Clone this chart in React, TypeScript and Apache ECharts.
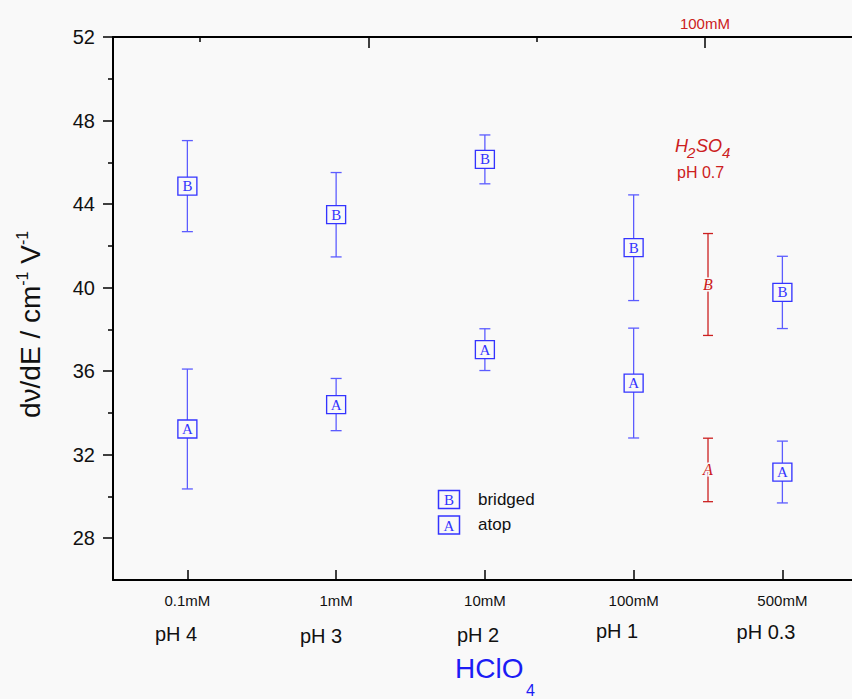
import React, { useEffect, useRef } from 'react';
import * as echarts from 'echarts';

// ---- data ----
const positions = [1, 2, 3, 4, 5];
const concentrationLabels = ['0.1mM', '1mM', '10mM', '100mM', '500mM'];
const phLabels = ['pH 4', 'pH 3', 'pH 2', 'pH 1', 'pH 0.3'];
const bridgedValues = [44.86, 43.49, 46.14, 41.91, 39.77];
const bridgedErrors = [2.18, 2.02, 1.17, 2.53, 1.73];
const atopValues = [33.23, 34.4, 37.03, 35.43, 31.17];
const atopErrors = [2.87, 1.25, 1.0, 2.63, 1.48];
const h2so4Positions = [4.5];
const h2so4Bridged = [40.15];
const h2so4BridgedErrors = [2.44];
const h2so4Atop = [31.27];
const h2so4AtopErrors = [1.52];
const yMajorTicks = [28, 32, 36, 40, 44, 48, 52];
const yMinorTicks = [30, 34, 38, 42, 46, 50];
const topMajorTicks = [1, 3];
const topMinorTicks = [0, 2];
const topLabelValues = [3];
const topLabelTexts = ['100mM'];

// ---- style ----
const BG = '#f9f9f9';
const BLUE = '#3434ff';
const BLUE_LINE = '#5c5cff';
const RED = '#cc2020';
const SANS = '"Liberation Sans", Arial, sans-serif';
const SERIF = '"Liberation Serif", "Times New Roman", serif';

function errorRows(xs: number[], ys: number[], es: number[]) {
  return xs.map((x, i) => [x, ys[i] - es[i], ys[i] + es[i], ys[i]]);
}

function makeErrorRender(color: string, capWidth: number, letter?: string) {
  return (_params: any, api: any) => {
    const x = api.value(0);
    const lo = api.value(1);
    const hi = api.value(2);
    const mid = api.value(3);
    const pHi = api.coord([x, hi]);
    const pLo = api.coord([x, lo]);
    const pMid = api.coord([x, mid]);
    const h = capWidth / 2;
    const style = { stroke: color, lineWidth: 1.3 };
    const children: any[] = [
      { type: 'line', shape: { x1: pHi[0], y1: pHi[1], x2: pLo[0], y2: pLo[1] }, style },
      { type: 'line', shape: { x1: pHi[0] - h, y1: pHi[1], x2: pHi[0] + h, y2: pHi[1] }, style },
      { type: 'line', shape: { x1: pLo[0] - h, y1: pLo[1], x2: pLo[0] + h, y2: pLo[1] }, style },
    ];
    if (letter) {
      children.push({
        type: 'text',
        x: pMid[0],
        y: pMid[1],
        style: {
          text: letter,
          fill: color,
          font: `italic 16px ${SERIF}`,
          align: 'center',
          verticalAlign: 'middle',
          stroke: BG,
          lineWidth: 3,
        },
      });
    }
    return { type: 'group', children };
  };
}

function markerSeries(name: string, letter: string, xs: number[], ys: number[]) {
  return {
    name,
    type: 'scatter',
    xAxisIndex: 0,
    yAxisIndex: 0,
    symbol: 'rect',
    symbolSize: [19, 18],
    z: 5,
    itemStyle: { color: BG, borderColor: BLUE, borderWidth: 1.3, opacity: 1 },
    label: {
      show: true,
      position: 'inside',
      formatter: letter,
      color: BLUE,
      fontFamily: SERIF,
      fontSize: 15,
    },
    data: xs.map((x, i) => [x, ys[i]]),
  };
}

const phTextX = [176, 321, 478, 617, 766];
const phTextY = [634, 636, 635, 631, 632];

export default function App() {
  const ref = useRef<HTMLDivElement>(null);
  useEffect(() => {
    if (!ref.current) return;
    const chart = echarts.init(ref.current, undefined, { renderer: 'svg' });
    const yAxisCommon = {
      type: 'value',
      min: 26,
      max: 52,
      position: 'left',
      splitLine: { show: false },
    };
    const option: any = {
      animation: false,
      backgroundColor: BG,
      grid: { left: 113, top: 37, right: 0, bottom: 119, containLabel: false },
      xAxis: [
        {
          type: 'value',
          position: 'bottom',
          min: 0.5,
          max: 5.468,
          splitLine: { show: false },
          axisLine: { show: true, onZero: false, lineStyle: { color: '#000', width: 2 } },
          axisTick: { show: true, inside: true, length: 10, customValues: positions, lineStyle: { color: '#000', width: 1.5 } },
          axisLabel: {
            show: true,
            customValues: positions,
            formatter: (v: number) => concentrationLabels[positions.indexOf(Math.round(v))] || '',
            color: '#111',
            fontFamily: SANS,
            fontSize: 15,
            margin: 13,
          },
        },
        {
          type: 'value',
          position: 'top',
          min: -0.517,
          max: 3.874,
          splitLine: { show: false },
          axisLine: { show: true, onZero: false, lineStyle: { color: '#000', width: 2 } },
          axisTick: { show: true, inside: true, length: 11, customValues: topMajorTicks, lineStyle: { color: '#000', width: 1.5 } },
          axisLabel: {
            show: true,
            customValues: topLabelValues,
            formatter: (v: number) => topLabelTexts[topLabelValues.indexOf(Math.round(v))] || '',
            color: RED,
            fontFamily: SANS,
            fontSize: 15,
            margin: 6,
          },
        },
        {
          type: 'value',
          position: 'top',
          min: -0.517,
          max: 3.874,
          splitLine: { show: false },
          axisLine: { show: false, onZero: false },
          axisTick: { show: true, inside: true, length: 5, customValues: topMinorTicks, lineStyle: { color: '#000', width: 1.5 } },
          axisLabel: { show: false },
        },
      ],
      yAxis: [
        {
          ...yAxisCommon,
          axisLine: { show: true, onZero: false, lineStyle: { color: '#000', width: 2 } },
          axisTick: { show: true, inside: false, length: 10, customValues: yMajorTicks, lineStyle: { color: '#000', width: 1.5 } },
          axisLabel: {
            show: true,
            customValues: yMajorTicks,
            color: '#111',
            fontFamily: SANS,
            fontSize: 20,
            margin: 18,
          },
        },
        {
          ...yAxisCommon,
          offset: 0,
          axisLine: { show: false, onZero: false },
          axisTick: { show: true, inside: false, length: 5, customValues: yMinorTicks, lineStyle: { color: '#000', width: 1.5 } },
          axisLabel: { show: false },
        },
      ],
      series: [
        {
          name: 'bridged err',
          type: 'custom',
          xAxisIndex: 0,
          yAxisIndex: 0,
          renderItem: makeErrorRender(BLUE_LINE, 11),
          encode: { x: 0, y: [1, 2] },
          data: errorRows(positions, bridgedValues, bridgedErrors),
          z: 2,
        },
        {
          name: 'atop err',
          type: 'custom',
          xAxisIndex: 0,
          yAxisIndex: 0,
          renderItem: makeErrorRender(BLUE_LINE, 11),
          encode: { x: 0, y: [1, 2] },
          data: errorRows(positions, atopValues, atopErrors),
          z: 2,
        },
        markerSeries('bridged', 'B', positions, bridgedValues),
        markerSeries('atop', 'A', positions, atopValues),
        {
          name: 'H2SO4 bridged',
          type: 'custom',
          xAxisIndex: 0,
          yAxisIndex: 0,
          renderItem: makeErrorRender(RED, 10, 'B'),
          encode: { x: 0, y: [1, 2] },
          data: errorRows(h2so4Positions, h2so4Bridged, h2so4BridgedErrors),
          z: 3,
        },
        {
          name: 'H2SO4 atop',
          type: 'custom',
          xAxisIndex: 0,
          yAxisIndex: 0,
          renderItem: makeErrorRender(RED, 10, 'A'),
          encode: { x: 0, y: [1, 2] },
          data: errorRows(h2so4Positions, h2so4Atop, h2so4AtopErrors),
          z: 3,
        },
      ],
      graphic: [
        // y axis title
        {
          type: 'text',
          x: 30,
          y: 418,
          rotation: Math.PI / 2,
          style: {
            text: '{a|dν/dE / cm}{b|-1}{a| V}{b|-1}',
            align: 'left',
            verticalAlign: 'middle',
            fill: '#111',
            rich: {
              a: { fontFamily: SANS, fontSize: 28, lineHeight: 32, fill: '#111', verticalAlign: 'middle' },
              b: { fontFamily: SANS, fontSize: 16, lineHeight: 16, fill: '#111', verticalAlign: 'top' },
            },
          },
        },
        // pH labels
        ...phLabels.map((t, i) => ({
          type: 'text',
          x: phTextX[i],
          y: phTextY[i],
          style: { text: t, fill: '#111', font: `20px ${SANS}`, align: 'center', verticalAlign: 'middle' },
        })),
        // HClO4
        { type: 'text', x: 455, y: 668.5, style: { text: 'HClO', fill: '#1c1cf5', font: `28px ${SANS}`, align: 'left', verticalAlign: 'middle' } },
        { type: 'text', x: 526, y: 690.5, style: { text: '4', fill: '#1c1cf5', font: `16px ${SANS}`, align: 'left', verticalAlign: 'middle' } },
        // H2SO4 label
        { type: 'text', x: 675, y: 146.3, style: { text: 'H', fill: RED, font: `italic 18px ${SANS}`, align: 'left', verticalAlign: 'middle' } },
        { type: 'text', x: 687, y: 152.5, style: { text: '2', fill: RED, font: `italic 15px ${SANS}`, align: 'left', verticalAlign: 'middle' } },
        { type: 'text', x: 696, y: 146.3, style: { text: 'SO', fill: RED, font: `italic 18px ${SANS}`, align: 'left', verticalAlign: 'middle' } },
        { type: 'text', x: 722, y: 152.5, style: { text: '4', fill: RED, font: `italic 15px ${SANS}`, align: 'left', verticalAlign: 'middle' } },
        { type: 'text', x: 677, y: 172, style: { text: 'pH 0.7', fill: RED, font: `16px ${SANS}`, align: 'left', verticalAlign: 'middle' } },
        // legend
        { type: 'rect', shape: { x: 438.5, y: 490.5, width: 21, height: 18 }, style: { fill: BG, stroke: BLUE, lineWidth: 1.5 } },
        { type: 'text', x: 449, y: 500, style: { text: 'B', fill: BLUE, font: `15px ${SERIF}`, align: 'center', verticalAlign: 'middle' } },
        { type: 'text', x: 478, y: 499.5, style: { text: 'bridged', fill: '#111', font: `17px ${SANS}`, align: 'left', verticalAlign: 'middle' } },
        { type: 'rect', shape: { x: 438.5, y: 516, width: 21, height: 18 }, style: { fill: BG, stroke: BLUE, lineWidth: 1.5 } },
        { type: 'text', x: 449, y: 525.5, style: { text: 'A', fill: BLUE, font: `15px ${SERIF}`, align: 'center', verticalAlign: 'middle' } },
        { type: 'text', x: 478, y: 524.6, style: { text: 'atop', fill: '#111', font: `17px ${SANS}`, align: 'left', verticalAlign: 'middle' } },
      ],
    };
    chart.setOption(option);
    return () => chart.dispose();
  }, []);
  return (
    <div
      ref={ref}
      style={{ position: 'fixed', left: 0, top: 0, width: 852, height: 699 }}
    />
  );
}
